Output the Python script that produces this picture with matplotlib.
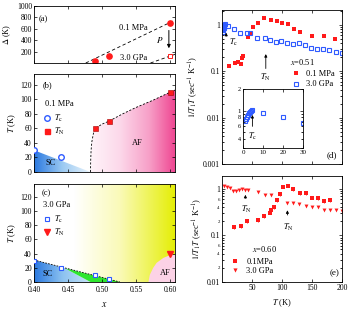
import numpy as np
import matplotlib
matplotlib.use('Agg')
import matplotlib.pyplot as plt
from matplotlib.patches import Polygon
from matplotlib.colors import LinearSegmentedColormap
from matplotlib.lines import Line2D
from matplotlib.ticker import LogLocator, FuncFormatter, NullFormatter

plt.rcParams['font.family'] = ['Liberation Serif', 'DejaVu Serif']
plt.rcParams['mathtext.fontset'] = 'stix'
plt.rcParams['font.size'] = 6
plt.rcParams['xtick.direction'] = 'in'
plt.rcParams['ytick.direction'] = 'in'
plt.rcParams['xtick.top'] = True
plt.rcParams['ytick.right'] = True
plt.rcParams['xtick.labelsize'] = 5.5
plt.rcParams['ytick.labelsize'] = 5.5
plt.rcParams['xtick.major.size'] = 2.5
plt.rcParams['ytick.major.size'] = 2.5
plt.rcParams['xtick.minor.size'] = 1.3
plt.rcParams['ytick.minor.size'] = 1.3
plt.rcParams['axes.linewidth'] = 0.6
plt.rcParams['xtick.major.width'] = 0.5
plt.rcParams['ytick.major.width'] = 0.5
plt.rcParams['xtick.major.pad'] = 1.5
plt.rcParams['ytick.major.pad'] = 1.5

RED = '#ff1a1a'
BLUE = '#2f5bff'

# ---- (a) gap vs x
gap_x_amb = [0.49, 0.51, 0.60]
gap_amb = [30, 120, 700]
gap_x_hp = [0.60]
gap_hp = [120]
gap_line_amb_x = [0.476, 0.61]
gap_line_amb = [0, 770]
gap_line_hp_x = [0.571, 0.61]
gap_line_hp = [0, 165]

# ---- (b) phase diagram 0.1 MPa
tc_x_amb = [0.40, 0.44]
tc_amb = [30, 20]
tn_x_amb = [0.49, 0.51, 0.60]
tn_amb = [60, 70, 110]
af_amb_x = [0.483, 0.4832, 0.4838, 0.485, 0.4872, 0.49, 0.50, 0.51, 0.53, 0.55, 0.575, 0.60, 0.61]
af_amb_y = [0, 15, 30, 42, 53, 60, 66, 70, 80, 89, 99, 110, 114]
sc_amb_x = [0.40, 0.40, 0.483]
sc_amb_y = [0, 30, 0]

# ---- (c) phase diagram 3.0 GPa
tc_x_hp = [0.40, 0.44, 0.49, 0.51]
tc_hp = [30, 20, 10, 4]
tn_x_hp = [0.60]
tn_hp = [40]
sc_line_x = [0.40, 0.526]
sc_line_y = [31, 0]
sc_hp_x = [0.40, 0.40, 0.445, 0.483]
sc_hp_y = [0, 31, 19.5, 0]
green_x = [0.445, 0.526, 0.483]
green_y = [19.5, 0, 0]
af_hp_x = [0.568, 0.570, 0.575, 0.58, 0.59, 0.60, 0.61]
af_hp_y = [0, 10, 20, 27, 34, 38, 39]

# ---- (d) x=0.51
d_T_amb = [12, 22, 27, 31, 33, 35.5, 43, 47, 51, 60, 70, 81, 91, 100, 110, 120, 130, 150, 170, 188]
d_amb = [0.13, 0.15, 0.155, 0.145, 0.195, 0.21, 0.54, 0.68, 0.92, 1.09, 1.40, 1.29, 1.24, 1.12,
         1.03, 0.81, 0.70, 0.57, 0.57, 0.49]
d_T_hp = [1.0, 1.5, 2.0, 2.5, 3.0, 3.5, 4.0, 4.5, 10, 20, 30, 41, 47, 59, 71, 80, 90, 99, 109,
          119, 129, 138, 148, 159, 169, 179, 190, 200]
d_hp = [0.71, 0.76, 0.82, 0.87, 0.92, 0.96, 1.0, 1.03, 0.93, 0.81, 0.68, 0.66, 0.68, 0.53, 0.53,
        0.47, 0.43, 0.45, 0.40, 0.38, 0.41, 0.365, 0.32, 0.31, 0.30, 0.29, 0.26, 0.25]

# ---- (e) x=0.60
e_T_amb = [20, 31, 41, 60, 70, 80, 82, 86, 91, 97, 101, 110, 118, 130, 140, 150, 160, 170, 180]
e_amb = [0.15, 0.16, 0.20, 0.215, 0.26, 0.31, 0.35, 0.40, 0.58, 0.78, 1.12, 1.18, 1.0, 0.80,
         0.82, 0.65, 0.64, 0.54, 0.58]
e_T_hp = [3, 8, 13, 19, 23, 29, 34, 39, 44, 60, 72, 81, 109, 119, 129, 140, 150, 160, 170, 180,
          190, 200]
e_hp = [1.18, 1.08, 1.03, 0.92, 0.89, 0.95, 1.0, 0.97, 0.95, 0.84, 0.74, 0.74, 0.49, 0.49, 0.47,
        0.43, 0.41, 0.40, 0.35, 0.35, 0.35, 0.33]

xticks = [0.40, 0.45, 0.50, 0.55, 0.60]


def grad_fill(ax, xs, ys, stops, x0, x1, y0, y1, z=0):
    poly = Polygon(np.column_stack([xs, ys]), closed=True, facecolor='none', edgecolor='none')
    ax.add_patch(poly)
    cmap = LinearSegmentedColormap.from_list('g', stops)
    im = ax.imshow(np.linspace(0, 1, 256).reshape(1, -1), extent=[x0, x1, y0, y1],
                   aspect='auto', cmap=cmap, origin='lower', zorder=z, interpolation='bilinear')
    im.set_clip_path(poly)


def minor_fmt(keep):
    def f(v, p):
        m = int(round(v / 10 ** np.floor(np.log10(v) + 1e-9)))
        return str(m) if m in keep else ''
    return FuncFormatter(f)


fig = plt.figure(figsize=(3.59, 3.09), dpi=100)
W, H = 359, 309


def add_ax(l, t, r, b):
    return fig.add_axes([l / W, 1 - b / H, (r - l) / W, (b - t) / H])


axa = add_ax(34, 6, 175, 63)
axb = add_ax(34, 74, 175, 172)
axc = add_ax(34, 184, 175, 282)
axd = add_ax(222, 10, 342, 164)
axe = add_ax(222, 176, 342, 282)
axi = add_ax(243, 89, 303, 148)

XL = (0.40, 0.607)

# (a)
axa.plot(gap_line_amb_x, gap_line_amb, ls=(0, (4, 3)), color='k', lw=0.6)
axa.plot(gap_line_hp_x, gap_line_hp, ls=(0, (4, 3)), color='k', lw=0.6)
axa.plot(gap_x_amb, gap_amb, 'o', color=RED, ms=3.8)
axa.plot(gap_x_hp, gap_hp, 's', mfc='white', mec=RED, mew=0.7, ms=3.4)
axa.annotate('', xy=(0.598, 210), xytext=(0.598, 620),
             arrowprops=dict(arrowstyle='-|>', color='k', lw=0.7, mutation_scale=5))
axa.text(0.525, 610, '0.1 MPa', va='center')
axa.text(0.526, 95, '3.0 GPa', va='center')
axa.text(0.584, 400, '$P$', va='center', ha='center', fontsize=6.5)
axa.text(0.035, 0.77, '(a)', transform=axa.transAxes, va='center')
axa.set_xlim(*XL)
axa.set_ylim(0, 1000)
axa.set_yticks([200, 400, 600, 800, 1000])
axa.set_xticks(xticks)
axa.set_xticklabels([])
axa.set_ylabel('$\\Delta$ (K)', fontsize=6, labelpad=3)

# (b)
grad_fill(axb, sc_amb_x, sc_amb_y, ['#2a78e0', '#9ccaf2', '#eaf4fc'], 0.40, 0.483, 0, 30)
grad_fill(axb, af_amb_x + [0.61, 0.61], af_amb_y + [114, 0],
          ['#fff4f9', '#fcd8ea', '#f7a0c8', '#ee3d8c'], 0.483, 0.61, 0, 114)
axb.plot(af_amb_x, af_amb_y, ls=(0, (2.5, 2)), color='k', lw=0.6)
axb.plot(tc_x_amb, tc_amb, 'o', mfc='white', mec=BLUE, mew=1.0, ms=4.0, zorder=3)
axb.plot(tn_x_amb, tn_amb, 's', color=RED, mec='#a00000', mew=0.4, ms=3.6, zorder=3)
axb.text(0.425, 12, 'SC', ha='center', va='center')
axb.text(0.551, 40, 'AF', ha='center', va='center')
axb.text(0.064, 0.89, '(b)', transform=axb.transAxes, va='center')
axb.text(0.078, 0.694, '0.1 MPa', transform=axb.transAxes, va='center')
hb = [Line2D([], [], ls='none', marker='o', mfc='white', mec=BLUE, mew=1.0, ms=4.0),
      Line2D([], [], ls='none', marker='s', color=RED, ms=3.6)]
axb.legend(hb, ['$T_{\\rm c}$', '$T_{\\rm N}$'], loc='upper left', bbox_to_anchor=(0.03, 0.65),
           frameon=False, handlelength=1.0, handletextpad=0.4, labelspacing=0.25,
           borderpad=0, fontsize=6)
axb.set_xlim(*XL)
axb.set_ylim(0, 135)
axb.set_yticks(range(0, 121, 20))
axb.set_xticks(xticks)
axb.set_xticklabels([])
axb.set_ylabel('$T$ (K)', fontsize=6, labelpad=2)

# (c)
grad_fill(axc, [0.40, 0.61, 0.61, 0.40], [0, 0, 140, 140],
          [(0.0, '#ffffff'), (0.28, '#ffffff'), (0.6, '#fafab8'), (1.0, '#e4ee00')],
          0.40, 0.61, 0, 140)
grad_fill(axc, sc_hp_x, sc_hp_y, ['#2a78e0', '#8cc2f0', '#c8e4f8'], 0.40, 0.483, 0, 31, z=1)
axc.fill(green_x, green_y, color='#2ee62e', lw=0, zorder=1)
axc.fill(af_hp_x + [0.61], af_hp_y + [0], color='#fcd2e6', lw=0, zorder=1)
axc.plot(sc_line_x, sc_line_y, ls=(0, (2, 1.5)), color='k', lw=0.6, zorder=2)
axc.plot(tc_x_hp, tc_hp, 's', mfc='white', mec=BLUE, mew=0.8, ms=3.4, zorder=3)
axc.plot(tn_x_hp, tn_hp, 'v', color=RED, ms=3.8, zorder=3)
axc.text(0.42, 11, 'SC', ha='center', va='center')
axc.text(0.593, 12, 'AF', ha='center', va='center')
axc.text(0.057, 0.91, '(c)', transform=axc.transAxes, va='center')
axc.text(0.064, 0.79, '3.0 GPa', transform=axc.transAxes, va='center')
hc = [Line2D([], [], ls='none', marker='s', mfc='white', mec=BLUE, mew=0.8, ms=3.4),
      Line2D([], [], ls='none', marker='v', color=RED, ms=3.8)]
axc.legend(hc, ['$T_{\\rm c}$', '$T_{\\rm N}$'], loc='upper left', bbox_to_anchor=(0.03, 0.74),
           frameon=False, handlelength=1.0, handletextpad=0.4, labelspacing=0.2,
           borderpad=0, fontsize=6)
axc.set_xlim(*XL)
axc.set_ylim(0, 138)
axc.set_yticks(range(0, 121, 20))
axc.set_xticks(xticks)
axc.set_xticklabels(['0.40', '0.45', '0.50', '0.55', '0.60'])
axc.tick_params(axis='x', pad=3)
axc.set_ylabel('$T$ (K)', fontsize=6, labelpad=2)
axc.set_xlabel('$x$', fontsize=7, labelpad=4)

# (d)
axd.plot(d_T_amb, d_amb, 's', color=RED, ms=2.6, mew=0)
axd.plot(d_T_hp, d_hp, 's', mfc='none', mec=BLUE, mew=0.8, ms=2.4)
axd.set_yscale('log')
axd.set_xlim(0, 200)
axd.set_ylim(1e-3, 2.1)
axd.set_xticks([0, 50, 100, 150, 200])
axd.set_xticklabels([])
axd.yaxis.set_major_formatter(FuncFormatter(lambda v, p: f'{v:g}'))
axd.yaxis.set_minor_locator(LogLocator(subs=np.arange(2, 10)))
axd.yaxis.set_minor_formatter(NullFormatter())
axd.annotate('', xy=(7, 0.78), xytext=(7, 0.5),
             arrowprops=dict(arrowstyle='-|>', color='k', lw=0.6, mutation_scale=4))
axd.text(12, 0.38, '$T_{\\rm c}$', fontsize=6)
axd.annotate('', xy=(73, 0.27), xytext=(73, 0.1),
             arrowprops=dict(arrowstyle='-|>', color='k', lw=0.6, mutation_scale=4))
axd.text(73, 0.065, '$T_{\\rm N}$', ha='center', fontsize=6)
axd.text(0.57, 0.665, '$x$=0.51', transform=axd.transAxes, va='center')
hd = [Line2D([], [], ls='none', marker='s', color=RED, ms=3.4, mew=0),
      Line2D([], [], ls='none', marker='s', mfc='none', mec=BLUE, mew=0.8, ms=3.2)]
axd.legend(hd, ['0.1 MPa', '3.0 GPa'], loc='upper left', bbox_to_anchor=(0.55, 0.635),
           frameon=False, handlelength=1.0, handletextpad=0.6, labelspacing=0.25,
           borderpad=0, fontsize=6)
axd.text(0.875, 0.06, '(d)', transform=axd.transAxes, va='center', fontsize=6.5)
axd.set_ylabel('$1/T_1T$ (sec$^{-1}$ K$^{-1}$)', fontsize=6, labelpad=2)

# inset of (d)
ins_T = [t for t in d_T_hp if t <= 30]
ins_v = [v for t, v in zip(d_T_hp, d_hp) if t <= 30]
axi.plot(ins_T, ins_v, 's', mfc='none', mec=BLUE, mew=0.8, ms=2.4)
axi.set_yscale('log')
axi.set_xlim(0, 30)
axi.set_ylim(0.3, 2)
axi.set_xticks([0, 10, 20, 30])
axi.yaxis.set_major_formatter(FuncFormatter(lambda v, p: f'{v:g}'))
axi.yaxis.set_minor_locator(LogLocator(subs=np.arange(2, 10)))
axi.yaxis.set_minor_formatter(minor_fmt((2, 4, 6, 8)))
axi.tick_params(which='both', labelsize=5)
axi.tick_params(which='minor', labelsize=4.5, pad=1.5)
axi.annotate('', xy=(4.7, 0.95), xytext=(4.7, 0.55),
             arrowprops=dict(arrowstyle='-|>', color='k', lw=0.6, mutation_scale=4))
axi.text(4.7, 0.4, '$T_{\\rm c}$', ha='center', fontsize=6)

# (e)
axe.errorbar(e_T_amb, e_amb, yerr=[v * 0.08 for v in e_amb], fmt='s', color=RED, ms=2.6,
             mew=0, elinewidth=0.6, capsize=1.2, capthick=0.6)
axe.plot(e_T_hp, e_hp, 'v', color=RED, ms=2.8, mew=0)
axe.set_yscale('log')
axe.set_xlim(0, 200)
axe.set_ylim(0.01, 1.9)
axe.set_xticks([50, 100, 150, 200])
axe.yaxis.set_major_formatter(FuncFormatter(lambda v, p: f'{v:g}'))
axe.yaxis.set_minor_locator(LogLocator(subs=np.arange(2, 10)))
axe.yaxis.set_minor_formatter(minor_fmt((2, 4, 6)))
axe.tick_params(axis='y', which='minor', labelsize=3.5, pad=1.5)
axe.annotate('', xy=(39, 0.86), xytext=(39, 0.55),
             arrowprops=dict(arrowstyle='-|>', color='k', lw=0.6, mutation_scale=4))
axe.text(40, 0.33, '$T_{\\rm N}$', ha='center', fontsize=6)
axe.annotate('', xy=(109, 0.4), xytext=(109, 0.24),
             arrowprops=dict(arrowstyle='-|>', color='k', lw=0.6, mutation_scale=4))
axe.text(111, 0.13, '$T_{\\rm N}$', ha='center', fontsize=6)
axe.text(0.25, 0.31, '$x$=0.60', transform=axe.transAxes, va='center')
he = [Line2D([], [], ls='none', marker='s', color=RED, ms=2.8, mew=0),
      Line2D([], [], ls='none', marker='v', color=RED, ms=3.0, mew=0)]
axe.legend(he, ['0.1MPa', '3.0 GPa'], loc='upper left', bbox_to_anchor=(0.03, 0.27),
           frameon=False, handlelength=1.2, handletextpad=0.8, labelspacing=0.2,
           borderpad=0, fontsize=6)
axe.text(0.9, 0.085, '(e)', transform=axe.transAxes, va='center', fontsize=6.5)
axe.set_ylabel('$1/T_1T$ (sec$^{-1}$ K$^{-1}$)', fontsize=6, labelpad=2)
axe.set_xlabel('$T$ (K)', fontsize=6, labelpad=4)

fig.savefig('out.png', dpi=100)
